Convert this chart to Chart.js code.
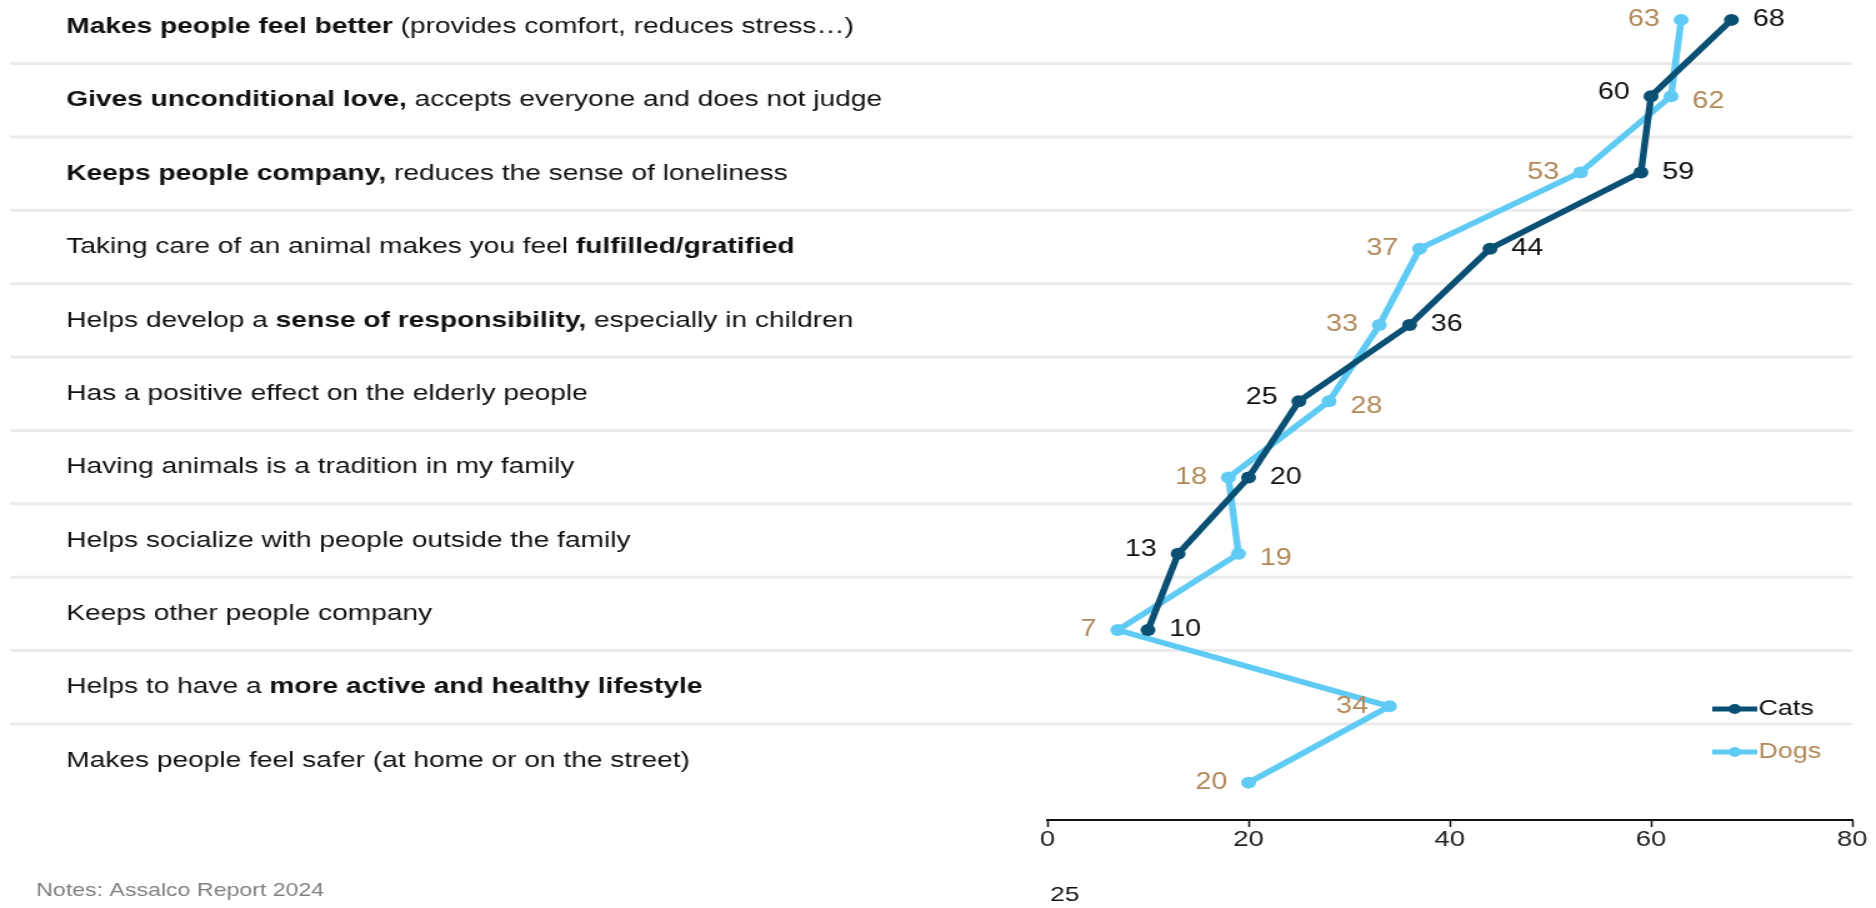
<!DOCTYPE html>
<html>
<head>
<meta charset="utf-8">
<script src="https://cdn.jsdelivr.net/npm/chart.js@4.4.1/dist/chart.umd.min.js"></script>
<style>
  html, body { margin: 0; padding: 0; background: #fff; overflow: hidden; }
  /* the source picture is stretched sideways, so the canvas is too */
  #petChart { position: absolute; left: 0; top: 0; transform-origin: 0 0; transform: scaleX(1.2498); }
</style>
</head>
<body>
<canvas id="petChart" width="1501" height="908"></canvas>
<script>
// Reasons for having a pet, top to bottom (** marks bold parts)
const categories = [
    '**Makes people feel better** (provides comfort, reduces stress…)',
    '**Gives unconditional love,** accepts everyone and does not judge',
    '**Keeps people company,** reduces the sense of loneliness',
    'Taking care of an animal makes you feel **fulfilled/gratified**',
    'Helps develop a **sense of responsibility,** especially in children',
    'Has a positive effect on the elderly people',
    'Having animals is a tradition in my family',
    'Helps socialize with people outside the family',
    'Keeps other people company',
    'Helps to have a **more active and healthy lifestyle**',
    'Makes people feel safer (at home or on the street)'
];
const cats = [68, 60, 59, 44, 36, 25, 20, 13, 10, null, null];
const dogs = [63, 62, 53, 37, 33, 28, 18, 19, 7, 34, 20];
const xTicks = [0, 20, 40, 60, 80];

const FONT = '"Liberation Sans", Arial, sans-serif';

// Rich row labels on the left plus the thin separators between rows
const rowLabels = {
    id: 'rowLabels',
    beforeDatasetsDraw(chart) {
        const { ctx, scales: { y } } = chart;
        const ys = categories.map((_, i) => y.getPixelForValue(i * 0.962) + 7);
        ctx.save();
        ctx.strokeStyle = '#ebebeb';
        ctx.lineWidth = 3;
        for (let i = 0; i < ys.length - 1; i++) {
            const m = (ys[i] + ys[i + 1]) / 2;
            ctx.beginPath();
            ctx.moveTo(8, m);
            ctx.lineTo(1482, m);
            ctx.stroke();
        }
        ctx.fillStyle = '#111';
        ctx.textBaseline = 'middle';
        ctx.textAlign = 'left';
        categories.forEach((txt, i) => {
            let x = 53;
            txt.split('**').forEach((seg, k) => {
                ctx.font = (k % 2 ? 'bold ' : '') + '22.5px ' + FONT;
                ctx.fillText(seg, x, ys[i]);
                x += ctx.measureText(seg).width;
            });
        });
        ctx.restore();
    }
};

// Value labels next to each point: the larger of the pair goes right
const valueLabels = {
    id: 'valueLabels',
    afterDatasetsDraw(chart) {
        const ctx = chart.ctx;
        ctx.save();
        ctx.font = '23px ' + FONT;
        ctx.textBaseline = 'middle';
        chart.data.datasets.forEach((ds, di) => {
            const other = chart.data.datasets[1 - di].data;
            chart.getDatasetMeta(di).data.forEach((pt, i) => {
                const v = ds.data[i].x;
                if (v == null) return;
                const o = other[i].x;
                const right = o != null && v > o;
                let dy = 0;
                if (di === 1 && right) dy = 5;
                if (di === 0 && !right) dy = -4;
                ctx.fillStyle = ds.labelColor;
                ctx.textAlign = right ? 'left' : 'right';
                ctx.fillText(v, pt.x + (right ? 17 : -17), pt.y + dy);
            });
        });
        ctx.restore();
    }
};

// Legend, notes and page number
const extras = {
    id: 'extras',
    afterDraw(chart) {
        const ctx = chart.ctx;
        ctx.save();
        ctx.textBaseline = 'middle';
        chart.data.datasets.forEach((ds, i) => {
            const y = 709 + i * 43;
            ctx.strokeStyle = ds.borderColor;
            ctx.lineWidth = 5;
            ctx.beginPath();
            ctx.moveTo(1370, y);
            ctx.lineTo(1406, y);
            ctx.stroke();
            ctx.fillStyle = ds.borderColor;
            ctx.beginPath();
            ctx.arc(1388, y, 5, 0, Math.PI * 2);
            ctx.fill();
            ctx.fillStyle = ds.labelColor;
            ctx.font = '21.5px ' + FONT;
            ctx.textAlign = 'left';
            ctx.fillText(ds.label, 1407, y);
        });
        ctx.fillStyle = '#7f7f7f';
        ctx.font = '18.5px ' + FONT;
        ctx.fillText('Notes: Assalco Report 2024', 29, 891);
        ctx.fillStyle = '#111';
        ctx.font = '21px ' + FONT;
        ctx.textAlign = 'center';
        ctx.fillText('25', 852, 895);
        ctx.restore();
    }
};

new Chart(document.getElementById('petChart'), {
    type: 'line',
    data: {
        datasets: [{
            label: 'Cats',
            data: cats.map((v, i) => ({ x: v, y: i })),
            borderColor: '#0a5074',
            backgroundColor: '#0a5074',
            labelColor: '#111',
            borderWidth: 5.5,
            pointRadius: 6,
            pointBorderWidth: 0
        }, {
            label: 'Dogs',
            data: dogs.map((v, i) => ({ x: v, y: i })),
            borderColor: '#5fcbf4',
            backgroundColor: '#5fcbf4',
            labelColor: '#b08858',
            borderWidth: 5.5,
            pointRadius: 6,
            pointBorderWidth: 0
        }]
    },
    options: {
        responsive: false,
        animation: false,
        devicePixelRatio: 1,
        layout: { padding: { top: 0, left: 838, right: 19, bottom: 48 } },
        plugins: { legend: { display: false }, tooltip: { enabled: false } },
        scales: {
            x: {
                type: 'linear',
                min: 0,
                max: 80,
                afterBuildTicks: s => { s.ticks = xTicks.map(v => ({ value: v })); },
                afterFit: s => { s.height = 40; },
                ticks: { color: '#222', font: { size: 22, family: FONT }, padding: 0, maxRotation: 0 },
                grid: { drawOnChartArea: false, drawTicks: true, tickLength: 7, tickColor: '#111', tickWidth: 1.5 },
                border: { color: '#111', width: 2 }
            },
            y: { type: 'linear', reverse: true, min: -0.182, max: 10.49, display: false }
        }
    },
    plugins: [rowLabels, valueLabels, extras]
});
</script>
</body>
</html>
